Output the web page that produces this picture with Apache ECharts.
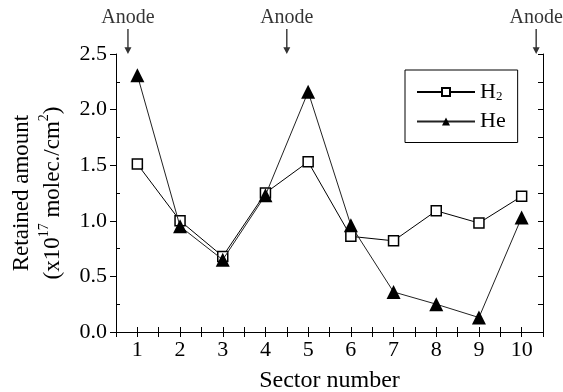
<!DOCTYPE html>
<html>
<head>
<meta charset="utf-8">
<script src="https://cdn.jsdelivr.net/npm/echarts@6/dist/echarts.min.js"></script>
<style>
  html, body { margin: 0; padding: 0; background: #fff; }
  #chart { width: 563px; height: 392px; }
</style>
</head>
<body>
<div id="chart"></div>
<script>
const sectors = [1, 2, 3, 4, 5, 6, 7, 8, 9, 10];
const h2Values = [1.51, 1.00, 0.68, 1.25, 1.53, 0.86, 0.82, 1.09, 0.98, 1.22];
const heValues = [2.31, 0.95, 0.65, 1.23, 2.16, 0.96, 0.36, 0.25, 0.13, 1.03];
const anodeX = [0.78, 4.5, 10.34];

const font = '"Liberation Serif", "DejaVu Serif", serif';
const chart = echarts.init(document.getElementById('chart'));

const arrowPath = 'path://M4.4,0 L5.6,0 L5.6,19 L8,19 L5,26 L2,19 L4.4,19 Z';

const option = {
  animation: false,
  backgroundColor: '#fff',
  grid: { left: 116, right: 20, top: 54, bottom: 60, outerBoundsMode: 'none', containLabel: false },
  legend: {
    orient: 'vertical',
    left: 405,
    top: 70,
    padding: [11, 12, 10, 11],
    itemGap: 7,
    itemWidth: 58,
    itemHeight: 10,
    borderColor: '#000',
    borderWidth: 1,
    backgroundColor: '#fff',
    data: ['H2', 'He'],
    formatter: name => name === 'H2' ? 'H{sub|2}' : 'He',
    textStyle: {
      fontFamily: font,
      fontSize: 22,
      color: '#000',
      rich: {
        sub: { fontFamily: font, fontSize: 13, color: '#000', verticalAlign: 'bottom', padding: [10, 0, 0, 0] }
      }
    }
  },
  xAxis: [
    {
      type: 'value',
      min: 0.5,
      max: 10.5,
      interval: 0.5,
      name: 'Sector number',
      nameLocation: 'middle',
      nameGap: 37,
      nameTextStyle: { fontFamily: font, fontSize: 24, color: '#000' },
      axisLine: { show: true, lineStyle: { color: '#000', width: 1 } },
      axisTick: { show: true, inside: true, length: 5, lineStyle: { color: '#000' } },
      axisLabel: {
        fontFamily: font, fontSize: 22, color: '#000', margin: 7,
        formatter: v => Number.isInteger(v) ? String(v) : ''
      },
      splitLine: { show: false }
    },
    {
      type: 'value',
      position: 'top',
      min: 0.5,
      max: 10.5,
      interval: 0.5,
      axisLine: { show: true, lineStyle: { color: '#000', width: 1 } },
      axisTick: { show: true, inside: true, length: 5, lineStyle: { color: '#000' } },
      axisLabel: { show: false },
      splitLine: { show: false }
    }
  ],
  yAxis: [
    {
      type: 'value',
      min: 0,
      max: 2.5,
      interval: 0.5,
      name: 'Retained amount\n(x10{sup|17} molec./cm{sup|2})',
      nameLocation: 'middle',
      nameRotate: 90,
      nameGap: 45,
      nameTextStyle: {
        fontFamily: font, fontSize: 23, color: '#000', lineHeight: 31, align: 'center',
        rich: {
          sup: { fontFamily: font, fontSize: 14, color: '#000', verticalAlign: 'top', padding: [0, 0, 10, 0] }
        }
      },
      axisLine: { show: true, lineStyle: { color: '#000', width: 1 } },
      axisTick: { show: true, inside: false, length: 6, lineStyle: { color: '#000' } },
      minorTick: { show: true, splitNumber: 2, length: -4, lineStyle: { color: '#000' } },
      axisLabel: {
        fontFamily: font, fontSize: 22, color: '#000', margin: 9,
        formatter: v => v.toFixed(1)
      },
      splitLine: { show: false }
    },
    {
      type: 'value',
      position: 'right',
      min: 0,
      max: 2.5,
      interval: 0.25,
      axisLine: { show: true, lineStyle: { color: '#000', width: 1 } },
      axisTick: { show: true, inside: true, length: 5, lineStyle: { color: '#000' } },
      axisLabel: { show: false },
      splitLine: { show: false }
    }
  ],
  series: [
    {
      name: 'H2',
      type: 'line',
      data: sectors.map((s, i) => [s, h2Values[i]]),
      symbol: 'rect',
      symbolSize: 10,
      showAllSymbol: true,
      lineStyle: { color: '#000', width: 1 },
      itemStyle: { color: '#fff', borderColor: '#000', borderWidth: 1.5 },
      z: 3
    },
    {
      name: 'He',
      type: 'line',
      data: sectors.map((s, i) => [s, heValues[i]]),
      symbol: 'triangle',
      symbolSize: 14,
      showAllSymbol: true,
      lineStyle: { color: '#222', width: 1 },
      itemStyle: { color: '#000', borderColor: '#000', borderWidth: 0 },
      z: 4
    },
    {
      name: 'anode',
      type: 'scatter',
      data: anodeX.map(x => [x, 2.5]),
      clip: false,
      symbol: arrowPath,
      symbolSize: [7, 25],
      symbolOffset: [0, '-50%'],
      itemStyle: { color: '#000' },
      label: {
        show: true,
        position: 'top',
        distance: 1,
        formatter: 'Anode',
        fontFamily: font,
        fontSize: 20,
        color: '#000'
      },
      silent: true,
      z: 5
    }
  ]
};

chart.setOption(option);
</script>
</body>
</html>
